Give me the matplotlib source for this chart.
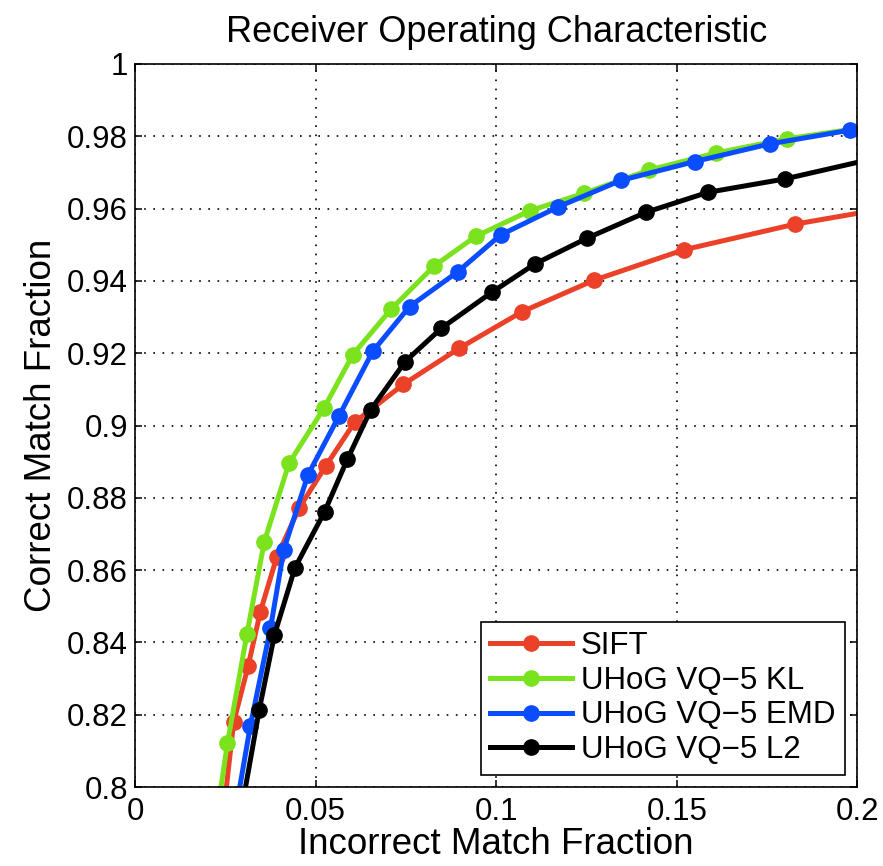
import numpy as np
import matplotlib
matplotlib.use("Agg")
import matplotlib.pyplot as plt

plt.rcParams['font.family'] = ['Liberation Sans', 'DejaVu Sans']

# values (first point = where the curve leaves the bottom axis)
sift_x = [0.0253, 0.0273, 0.0313, 0.0347, 0.0392, 0.0454, 0.0528, 0.0608, 0.0743,
          0.0898, 0.1072, 0.1271, 0.1519, 0.1827, 0.2000]
sift_y = [0.8000, 0.8179, 0.8334, 0.8485, 0.8635, 0.8771, 0.8888, 0.9009, 0.9114,
          0.9214, 0.9315, 0.9402, 0.9486, 0.9557, 0.9587]

kl_x = [0.0238, 0.0256, 0.0310, 0.0358, 0.0426, 0.0523, 0.0603, 0.0709, 0.0829,
        0.0943, 0.1093, 0.1242, 0.1424, 0.1609, 0.1804, 0.2000]
kl_y = [0.8000, 0.8122, 0.8424, 0.8679, 0.8895, 0.9048, 0.9196, 0.9322, 0.9442,
        0.9523, 0.9594, 0.9642, 0.9707, 0.9754, 0.9793, 0.9822]

emd_x = [0.0290, 0.0319, 0.0375, 0.0412, 0.0479, 0.0565, 0.0658, 0.0760, 0.0893,
         0.1012, 0.1172, 0.1345, 0.1549, 0.1757, 0.1979]
emd_y = [0.8000, 0.8168, 0.8439, 0.8657, 0.8864, 0.9027, 0.9205, 0.9329, 0.9425,
         0.9527, 0.9605, 0.9678, 0.9730, 0.9779, 0.9817]

l2_x = [0.0306, 0.0344, 0.0386, 0.0443, 0.0525, 0.0588, 0.0653, 0.0748, 0.0848,
        0.0987, 0.1107, 0.1251, 0.1415, 0.1586, 0.1799, 0.2000]
l2_y = [0.8000, 0.8214, 0.8421, 0.8607, 0.8762, 0.8907, 0.9044, 0.9177, 0.9269,
        0.9368, 0.9447, 0.9518, 0.9590, 0.9645, 0.9682, 0.9728]

labels = ["SIFT", "UHoG VQ\u22125 KL", "UHoG VQ\u22125 EMD", "UHoG VQ\u22125 L2"]
xticks = [0, 0.05, 0.1, 0.15, 0.2]
xticklabels = ["0", "0.05", "0.1", "0.15", "0.2"]
yticks = [0.8, 0.82, 0.84, 0.86, 0.88, 0.9, 0.92, 0.94, 0.96, 0.98, 1.0]
yticklabels = ["0.8", "0.82", "0.84", "0.86", "0.88", "0.9", "0.92", "0.94", "0.96", "0.98", "1"]

fig = plt.figure(figsize=(8.83, 8.66), dpi=100)
ax = fig.add_axes([0.1529, 0.0912, 0.8182, 0.8349])

series = [
    (sift_x, sift_y, "#ea4128", slice(1, -1)),
    (kl_x, kl_y, "#7be21e", slice(1, -1)),
    (emd_x, emd_y, "#0a4cff", slice(1, None)),
    (l2_x, l2_y, "black", slice(1, -1)),
]
for (x, y, c, me), lab in zip(series, labels):
    ax.plot(x, y, color=c, lw=3.6, marker='o', ms=11, markevery=me, label=lab)

ax.set_xlim(0, 0.2)
ax.set_ylim(0.8, 1.0)
ax.set_xticks(xticks)
ax.set_xticklabels(xticklabels)
ax.set_yticks(yticks)
ax.set_yticklabels(yticklabels)
ax.grid(True, color='black', linestyle=(0, (1, 4.5)), lw=1.2)
ax.tick_params(direction='in', top=True, right=True, length=5, width=1.1,
               labelsize=22.5)
ax.tick_params(axis='x', pad=7)
ax.tick_params(axis='y', pad=5)
for s in ax.spines.values():
    s.set_linewidth(1.2)

ax.set_title("Receiver Operating Characteristic", fontsize=26, pad=16)
ax.set_xlabel("Incorrect Match Fraction", fontsize=26.5, labelpad=0)
ax.set_ylabel("Correct Match Fraction", fontsize=26.5, labelpad=6)

leg = ax.legend(loc='lower right', fontsize=22.5, fancybox=False, framealpha=1,
                edgecolor='black', borderaxespad=0.4, handlelength=2.6,
                handletextpad=0.3, labelspacing=0.15, borderpad=0.3)
leg.get_frame().set_linewidth(1.2)

fig.savefig("out.png", dpi=100)
